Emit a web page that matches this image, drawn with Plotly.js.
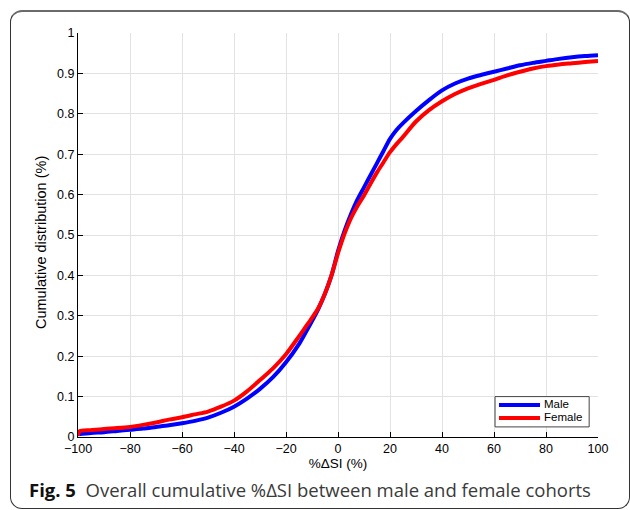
<!DOCTYPE html>
<html>
<head>
<meta charset="utf-8">
<script src="https://cdn.plot.ly/plotly-3.0.1.min.js"></script>
<style>
  html, body { margin: 0; padding: 0; background: #fff; }
  #wrap { position: relative; width: 630px; height: 510px; overflow: hidden; }
  #chart { position: absolute; left: 0; top: 0; width: 630px; height: 510px; }
  #frame {
    position: absolute; left: 10px; top: 10px; width: 618px; height: 496px;
    border-top: 2px solid #6a6a6a; border-left: 1px solid #333; border-right: 1px solid #333;
    border-bottom: 1px solid #333;
    border-radius: 12px; pointer-events: none;
  }
</style>
</head>
<body>
<div id="wrap">
  <div id="chart"></div>
  <div id="frame"></div>
</div>
<script>
// %ΔSI sample points (percent) and empirical cumulative fractions
const deltaSI = [-100, -95, -90, -85, -80, -75, -70, -65, -60, -55, -50, -45, -40, -35, -30, -25,
  -20, -15, -12.5, -10, -7.5, -5, -2.5, 0, 2.5, 5, 7.5, 10, 12.5, 15, 17.5, 20, 22.5, 25, 30, 35, 40,
  45, 50, 55, 60, 65, 70, 75, 80, 85, 90, 95, 100];

const maleCDF = [0.007, 0.010, 0.012, 0.015, 0.018, 0.021, 0.025, 0.029, 0.034, 0.040, 0.048, 0.060,
  0.075, 0.095, 0.119, 0.148, 0.185, 0.230, 0.258, 0.287, 0.318, 0.355, 0.400, 0.460, 0.510, 0.552,
  0.588, 0.618, 0.648, 0.678, 0.708, 0.738, 0.760, 0.777, 0.807, 0.834, 0.858, 0.875, 0.887, 0.896,
  0.904, 0.912, 0.920, 0.926, 0.931, 0.936, 0.940, 0.943, 0.945];

// the female curve starts with a short step at -100
const femaleX = [-100, -99.5].concat(deltaSI.slice(1));
const femaleCDF = [0.003, 0.014, 0.017, 0.020, 0.022, 0.025, 0.030, 0.036, 0.043, 0.049, 0.056, 0.063,
  0.075, 0.090, 0.113, 0.141, 0.170, 0.205, 0.249, 0.272, 0.295, 0.320, 0.355, 0.400, 0.455, 0.503,
  0.542, 0.572, 0.598, 0.627, 0.655, 0.680, 0.705, 0.725, 0.743, 0.781, 0.809, 0.831, 0.849, 0.863,
  0.874, 0.884, 0.895, 0.904, 0.912, 0.918, 0.922, 0.925, 0.928, 0.931];

const seriesNames = ['Male', 'Female'];
const seriesColors = ['#0000ff', '#ff0000'];

const xTicks = [-100, -80, -60, -40, -20, 0, 20, 40, 60, 80, 100];
const yTicks = [0, 0.1, 0.2, 0.3, 0.4, 0.5, 0.6, 0.7, 0.8, 0.9, 1];

const sans = 'Liberation Sans, Arial, sans-serif';
const tickFont = { family: sans, size: 12.5, color: '#000' };

const traces = [
  { x: deltaSI, y: maleCDF, name: seriesNames[0], mode: 'lines',
    line: { color: seriesColors[0], width: 4, shape: 'spline', smoothing: 0.8 } },
  { x: femaleX, y: femaleCDF, name: seriesNames[1], mode: 'lines',
    line: { color: seriesColors[1], width: 4, shape: 'spline', smoothing: 0.8 } }
];

// boxed legend in the lower right corner of the plot area
const legendBox = { x0: 0.802, x1: 0.983, y0: 0.025, y1: 0.100 };
const legendRows = [0.079, 0.047];
const legendShapes = [
  { type: 'rect', xref: 'paper', yref: 'paper', x0: legendBox.x0, x1: legendBox.x1,
    y0: legendBox.y0, y1: legendBox.y1, fillcolor: '#fff', line: { color: '#444', width: 1 } }
].concat(seriesNames.map((n, i) => ({
  type: 'line', xref: 'paper', yref: 'paper', x0: 0.8096, x1: 0.8885,
  y0: legendRows[i], y1: legendRows[i], line: { color: seriesColors[i], width: 4 }
})));
const legendLabels = seriesNames.map((n, i) => ({
  xref: 'paper', yref: 'paper', x: 0.8915, y: legendRows[i] + 0.003,
  xanchor: 'left', yanchor: 'middle', showarrow: false, text: n,
  font: { family: sans, size: 11.5, color: '#000' }
}));

const layout = {
  width: 630, height: 510,
  margin: { l: 78, r: 32, t: 33, b: 73 },
  paper_bgcolor: '#fff', plot_bgcolor: '#fff',
  font: tickFont,
  showlegend: false,
  xaxis: {
    range: [-100, 100], tickmode: 'array', tickvals: xTicks,
    ticks: 'inside', ticklen: 5, tickcolor: '#000', tickwidth: 1,
    showline: true, linecolor: '#000', linewidth: 1, mirror: false,
    showgrid: true, gridcolor: '#e2e2e2', gridwidth: 1, zeroline: false,
    tickfont: tickFont,
    title: { text: '%ΔSI (%)', font: { family: sans, size: 13.5, color: '#000' }, standoff: 1 }
  },
  yaxis: {
    range: [0, 1], tickmode: 'array', tickvals: yTicks,
    ticks: 'inside', ticklen: 5, tickcolor: '#000', tickwidth: 1,
    showline: true, linecolor: '#000', linewidth: 1, mirror: false,
    showgrid: true, gridcolor: '#e2e2e2', gridwidth: 1, zeroline: false,
    tickfont: tickFont
  },
  shapes: legendShapes,
  annotations: legendLabels.concat([
    // vertical axis label, set slightly below the plot's middle
    { xref: 'paper', yref: 'paper', x: (41 - 78) / 520, y: (437 - 243) / 404,
      xanchor: 'center', yanchor: 'middle', showarrow: false, textangle: -90,
      text: 'Cumulative distribution (%)',
      font: { family: sans, size: 14.5, color: '#000' } },
    { xref: 'paper', yref: 'paper', x: (27 - 78) / 520, y: -(489 - 437) / 404,
      xanchor: 'left', yanchor: 'middle', showarrow: false,
      text: '<b style="color:#111">Fig. 5</b>  Overall cumulative %ΔSI between male and female cohorts',
      font: { family: 'Open Sans, Noto Sans, sans-serif', size: 18.5, color: '#3a3a3a' } }
  ])
};

Plotly.newPlot('chart', traces, layout, { displayModeBar: false, staticPlot: true });
</script>
</body>
</html>
